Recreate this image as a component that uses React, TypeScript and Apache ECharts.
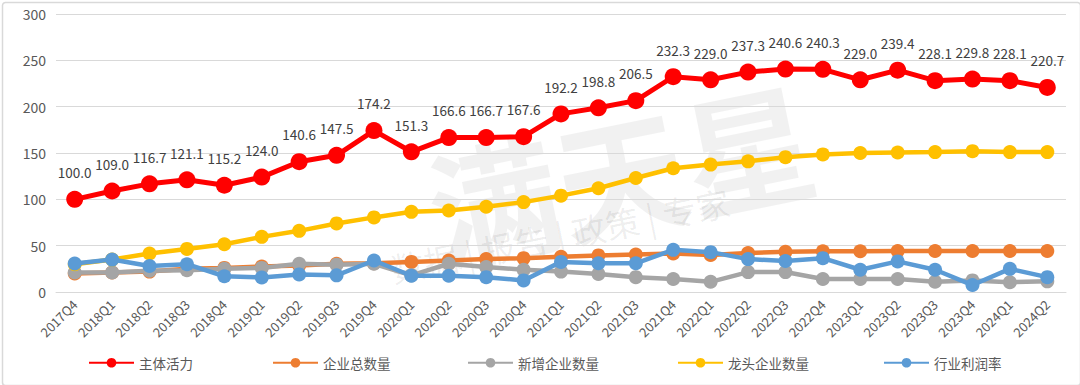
import React, { useEffect, useRef } from "react";
import * as echarts from "echarts";

const categories = [
  "2017Q4", "2018Q1", "2018Q2", "2018Q3", "2018Q4", "2019Q1", "2019Q2", "2019Q3", "2019Q4",
  "2020Q1", "2020Q2", "2020Q3", "2020Q4", "2021Q1", "2021Q2", "2021Q3", "2021Q4",
  "2022Q1", "2022Q2", "2022Q3", "2022Q4", "2023Q1", "2023Q2", "2023Q3", "2023Q4",
  "2024Q1", "2024Q2",
];

const vitality = [
  100.0, 109.0, 116.7, 121.1, 115.2, 124.0, 140.6, 147.5, 174.2,
  151.3, 166.6, 166.7, 167.6, 192.2, 198.8, 206.5, 232.3,
  229.0, 237.3, 240.6, 240.3, 229.0, 239.4, 228.1, 229.8,
  228.1, 220.7,
];

const totalFirms = [
  20, 21, 22, 25, 26, 27.5, 28.5, 30.5, 31,
  32.5, 34, 35.5, 36.5, 38, 39.5, 40.5, 41.5,
  40, 42, 43.5, 44, 44, 44.3, 44.3, 44.3,
  44.3, 44.3,
];

const newFirms = [
  21, 21, 23, 23.5, 25, 26, 30.5, 29.5, 30.5,
  18, 30.5, 27, 24, 22, 19.5, 16, 14,
  11, 21.5, 21.5, 14, 14, 14, 11, 12.5,
  10.5, 11.5,
];

const leadingFirms = [
  30, 35, 41.5, 46.5, 51.5, 59.5, 66, 74, 80.5,
  86.5, 88, 92, 97, 104, 112, 123, 133.5,
  137.5, 141, 145.5, 148.5, 150, 150.5, 151, 152,
  151, 151,
];

const profitRate = [
  30.8, 35, 28, 30, 17, 15.6, 19, 18, 34,
  17.5, 17.5, 16, 12.5, 32.5, 31, 31, 45.5,
  43, 35.5, 33.5, 36.5, 24, 33, 24, 7.5,
  25, 16,
];

const seriesNames = ["主体活力", "企业总数量", "新增企业数量", "龙头企业数量", "行业利润率"];
const seriesColors = ["#FF0000", "#ED7D31", "#A5A5A5", "#FFC000", "#5B9BD5"];
const legendLefts = [83, 267, 462, 672, 878];

const FONT = "'Noto Sans CJK SC', 'Noto Sans', sans-serif";

export default function App() {
  const ref = useRef<HTMLDivElement>(null);

  useEffect(() => {
    if (!ref.current) return;
    const chart = echarts.init(ref.current, undefined, { renderer: "svg" });
    const allData = [vitality, totalFirms, newFirms, leadingFirms, profitRate];

    const series = seriesNames.map((name, i) => {
      const isMain = i === 0;
      return {
        name,
        type: "line",
        data: allData[i],
        symbol: "circle",
        symbolSize: isMain ? 17 : 14,
        showAllSymbol: true,
        lineStyle: { color: seriesColors[i], width: isMain ? 5 : 4.5 },
        itemStyle: { color: seriesColors[i] },
        z: 2 + i,
        label: isMain
          ? {
              show: true,
              position: "top",
              distance: 12,
              color: "#404040",
              fontSize: 13.5,
              fontFamily: FONT,
              formatter: (p: any) => Number(p.value).toFixed(1),
            }
          : { show: false },
      };
    });

    chart.setOption({
      animation: false,
      backgroundColor: "#ffffff",
      textStyle: { fontFamily: FONT },
      graphic: [
        {
          type: "rect",
          left: 0,
          top: 0,
          shape: { x: 0.5, y: 0.5, width: 1078, height: 383, r: 3 },
          style: { fill: "none", stroke: "#d9d9d9", lineWidth: 1.5 },
          silent: true,
          z: -10,
        },
        {
          type: "text",
          x: 620,
          y: 170,
          rotation: 0.2,
          style: {
            text: "满天星",
            fill: "rgba(0,0,0,0.055)",
            font: "bold 130px 'Noto Sans CJK SC'",
            align: "center",
            verticalAlign: "middle",
          },
          silent: true,
          z: -5,
        },
        {
          type: "text",
          x: 560,
          y: 235,
          rotation: 0.2,
          style: {
            text: "数据 | 报告 | 政策 | 专家",
            fill: "rgba(0,0,0,0.07)",
            font: "34px 'Noto Sans CJK SC'",
            align: "center",
            verticalAlign: "middle",
          },
          silent: true,
          z: -5,
        },
      ],
      legend: seriesNames.map((name, i) => ({
        data: [name],
        left: legendLefts[i],
        top: 351,
        itemWidth: 45,
        itemHeight: 12,
        itemGap: 4,
        textStyle: { color: "#595959", fontSize: 13.5, fontFamily: FONT },
      })),
      grid: { left: 56, right: 14, top: 14, bottom: 93, containLabel: false },
      xAxis: {
        type: "category",
        data: categories,
        boundaryGap: true,
        axisLine: { show: true, lineStyle: { color: "#d9d9d9", width: 1 } },
        axisTick: { show: false },
        axisLabel: {
          rotate: 45,
          interval: 0,
          color: "#595959",
          fontSize: 13,
          fontFamily: FONT,
          margin: 10,
        },
      },
      yAxis: {
        type: "value",
        min: 0,
        max: 300,
        interval: 50,
        axisLine: { show: false },
        axisTick: { show: false },
        axisLabel: { color: "#595959", fontSize: 14, fontFamily: FONT, margin: 10 },
        splitLine: { lineStyle: { color: "#d9d9d9", width: 1 } },
      },
      series,
    });

    return () => chart.dispose();
  }, []);

  return (
    <div
      ref={ref}
      style={{ position: "fixed", left: 0, top: 0, width: 1080, height: 385, background: "#fff" }}
    />
  );
}
